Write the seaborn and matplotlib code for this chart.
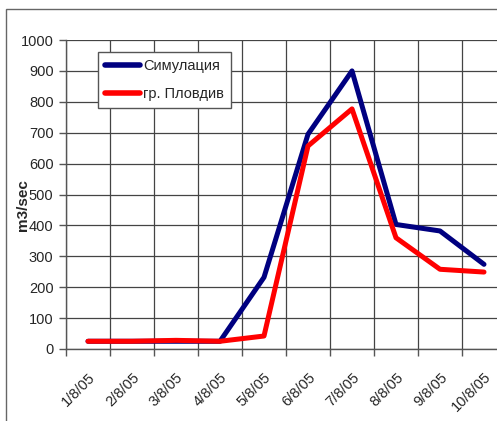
import matplotlib
matplotlib.use("Agg")
import matplotlib.pyplot as plt
import seaborn as sns
import pandas as pd
from matplotlib.patches import Rectangle

dates = ["1/8/05", "2/8/05", "3/8/05", "4/8/05", "5/8/05",
         "6/8/05", "7/8/05", "8/8/05", "9/8/05", "10/8/05"]
sim = [25, 25, 25, 25, 232, 695, 900, 403, 382, 274]
plovdiv = [25, 25, 28, 25, 42, 657, 777, 360, 258, 249]
series_names = ["Симулация", "гр. Пловдив"]
yticks = list(range(0, 1001, 100))

sns.set_theme(style="white")
plt.rcParams["font.family"] = ["Liberation Sans", "DejaVu Sans"]

df = pd.DataFrame({
    "date": dates * 2,
    "value": sim + plovdiv,
    "series": [series_names[0]] * len(dates) + [series_names[1]] * len(dates),
})

fig = plt.figure(figsize=(4.97, 4.21), dpi=100)
W, H = 497, 421
ax = fig.add_axes([66 / W, 1 - 349 / H, 440 / W, 309 / H])

sns.lineplot(data=df, x="date", y="value", hue="series",
             palette=["#000080", "#FF0000"], linewidth=3.6, ax=ax,
             sort=False, legend=True)

ax.set_xlim(-0.5, len(dates) - 0.5)
ax.set_ylim(0, 1000)
ax.set_yticks(yticks)
ax.set_yticklabels([str(v) for v in yticks], fontsize=10.5)
ax.set_xticks(range(len(dates)))
ax.set_xticklabels(dates, rotation=45, ha="right", rotation_mode="anchor", fontsize=10.5)
ax.set_xticks([i - 0.5 for i in range(len(dates) + 1)], minor=True)
ax.tick_params(axis="x", which="major", length=0, pad=15)
ax.tick_params(axis="x", which="minor", length=5, color="#555555", width=1, direction="out", bottom=True)
ax.tick_params(axis="y", length=5, color="#555555", width=1, direction="out", left=True, pad=4)
ax.grid(False)
ax.grid(True, axis="x", which="minor", color="#444444", linewidth=0.9)
ax.grid(True, axis="y", which="major", color="#444444", linewidth=0.9)
for s in ["top", "right"]:
    ax.spines[s].set_visible(False)
for s in ["left", "bottom"]:
    ax.spines[s].set_color("#555555")
    ax.spines[s].set_linewidth(1)
ax.set_xlabel("")
ax.set_ylabel("m3/sec", fontsize=11, fontweight="bold")
ax.yaxis.set_label_coords((30 - 66) / 440, (349 - 205) / 309)

leg = ax.legend(title=None, loc="upper left",
                bbox_to_anchor=(98 / W, 1 - 52 / H), bbox_transform=fig.transFigure,
                fontsize=10.5, frameon=True, fancybox=False, framealpha=1,
                edgecolor="#555555", handlelength=2.4, handletextpad=0.2,
                borderpad=0.5, labelspacing=0.95, borderaxespad=0)
leg.get_frame().set_linewidth(1)
for line in leg.get_lines():
    line.set_linewidth(4)

fig.patches.append(Rectangle((6 / W, -0.01), 1.0, 1 - 9 / H + 0.01,
                             transform=fig.transFigure, fill=False,
                             edgecolor="#666666", linewidth=1))

fig.savefig("out.png", dpi=100)
